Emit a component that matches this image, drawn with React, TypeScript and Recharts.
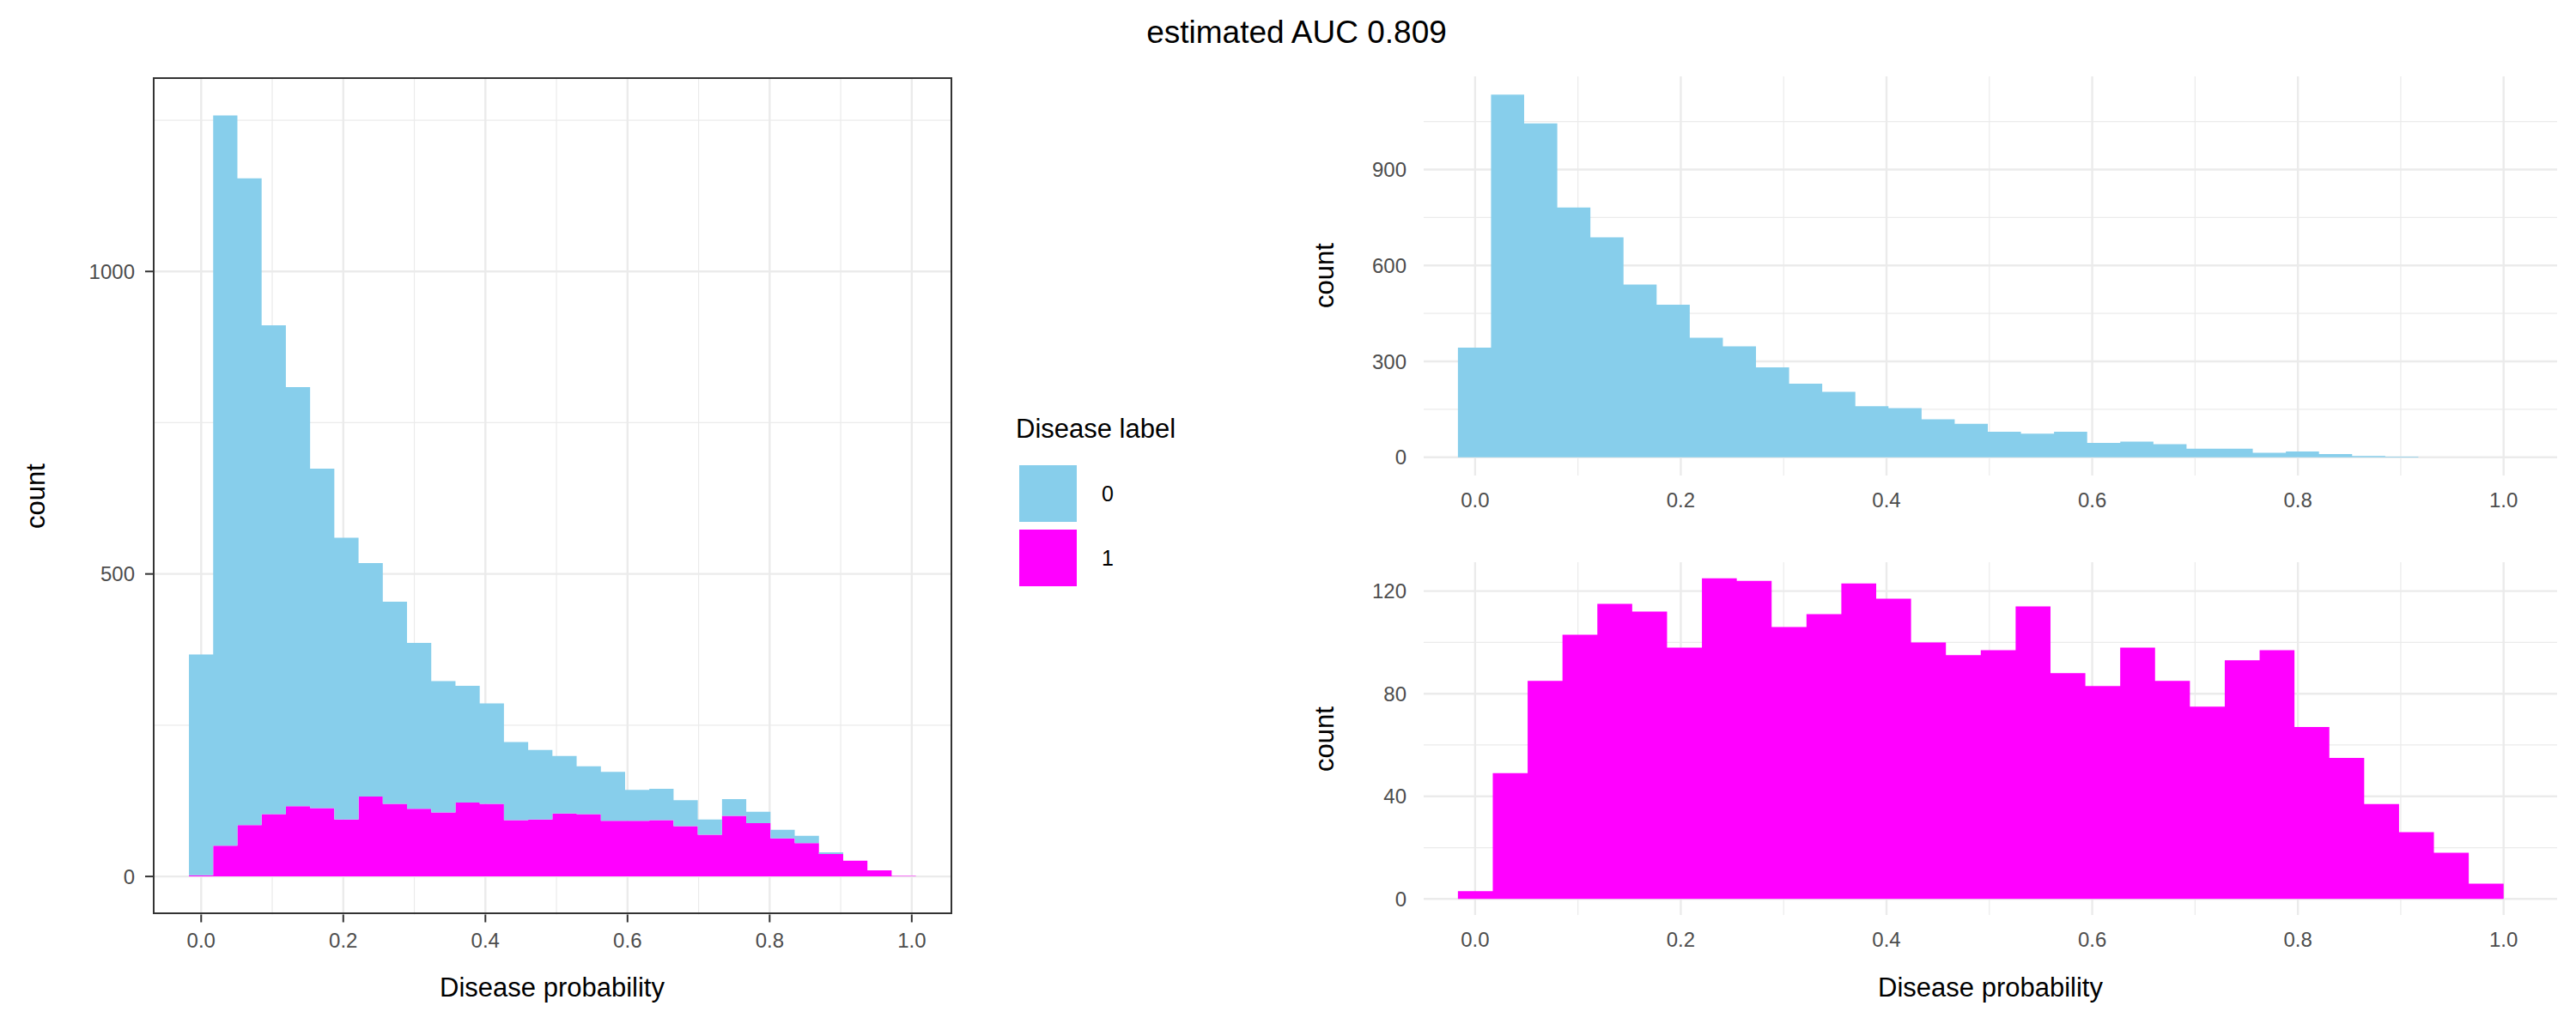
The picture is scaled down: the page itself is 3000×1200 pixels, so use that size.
import React from "react";
import { ComposedChart, Area, XAxis, YAxis, CartesianGrid } from "recharts";

const leftTotal = [367,1258,1154,911,809,674,560,518,454,386,323,315,286,222,209,199,182,173,143,145,126,94,128,107,77,67,40,26,10,1];
const leftPos = [2,51,85,103,116,113,94,132,120,112,106,122,120,93,94,104,103,92,92,93,83,69,100,88,63,55,37,26,10,1];
const negCounts = [343,1134,1044,781,688,540,477,374,347,281,230,205,160,154,119,105,80,74,80,45,49,41,27,27,14,18,10,4,2];
const posCounts = [3,49,85,103,115,112,98,125,124,106,111,123,117,100,95,97,114,88,83,98,85,75,93,97,67,55,37,26,18,6];
const leftBins = { start: -0.0172, width: 0.0341 };
const negBins = { start: -0.0167, width: 0.0322 };
const posBins = { start: -0.0167, width: 0.03389 };
const xTicks = [0, 0.2, 0.4, 0.6, 0.8, 1.0];
const xMinor = [0.1, 0.3, 0.5, 0.7, 0.9];

const BLUE = "#87CEEB";
const MAGENTA = "#FF00FF";
const FONT = "'Liberation Sans', Arial, sans-serif";

function edges(bins: { start: number; width: number }, series: Record<string, number[]>) {
  const keys = Object.keys(series);
  const n = series[keys[0]].length;
  const out: any[] = [];
  for (let i = 0; i <= n; i++) {
    const j = Math.min(i, n - 1);
    const row: any = { x: bins.start + bins.width * i };
    keys.forEach((k) => (row[k] = series[k][j]));
    out.push(row);
  }
  return out;
}

const leftData = edges(leftBins, { pos: leftPos, neg: leftTotal.map((t, i) => t - leftPos[i]) });
const negData = edges(negBins, { neg: negCounts });
const posData = edges(posBins, { pos: posCounts });

const YW = 120;
const XH = 70;

function Panel(props: any) {
  const { left, top, w, h, data, xDomain, yDomain, yTicks, yMinor, areas, ticks } = props;
  const tickStyle = { fontSize: 24, fill: "#4D4D4D", fontFamily: FONT };
  return (
    <div style={{ position: "absolute", left: left - YW, top }}>
      <ComposedChart width={w + YW} height={h + XH} data={data} margin={{ top: 0, right: 0, bottom: 0, left: 0 }}>
        <CartesianGrid stroke="#EBEBEB" strokeWidth={1.2} horizontalValues={yMinor} verticalValues={xMinor} />
        <CartesianGrid stroke="#EBEBEB" strokeWidth={2.4} horizontalValues={yTicks} verticalValues={xTicks} />
        <XAxis
          dataKey="x"
          type="number"
          domain={xDomain}
          ticks={xTicks}
          allowDataOverflow
          height={XH}
          axisLine={false}
          tickLine={ticks ? { stroke: "#333333", strokeWidth: 2 } : false}
          tickSize={ticks ? 9 : 0}
          tickMargin={ticks ? 12 : 20}
          tick={tickStyle}
          tickFormatter={(v: number) => v.toFixed(1)}
        />
        <YAxis
          type="number"
          domain={yDomain}
          ticks={yTicks}
          allowDataOverflow
          width={YW}
          axisLine={false}
          tickLine={ticks ? { stroke: "#333333", strokeWidth: 2 } : false}
          tickSize={ticks ? 9 : 0}
          tickMargin={ticks ? 12 : 20}
          tick={tickStyle}
        />
        {areas.map((a: any) => (
          <Area
            key={a.key}
            type="stepAfter"
            dataKey={a.key}
            stackId={a.stack}
            fill={a.color}
            fillOpacity={1}
            stroke="none"
            dot={false}
            activeDot={false}
            isAnimationActive={false}
          />
        ))}
      </ComposedChart>
    </div>
  );
}

const textBase: React.CSSProperties = { position: "absolute", fontFamily: FONT, color: "#000", whiteSpace: "nowrap" };

export default function App() {
  return (
    <div style={{ position: "absolute", left: 0, top: 0, width: 3000, height: 1200, background: "#fff", overflow: "hidden" }}>
      <div style={{ ...textBase, left: 1510, top: 38, transform: "translate(-50%,-50%)", fontSize: 37 }}>estimated AUC 0.809</div>

      <Panel
        left={178} top={89.5} w={931} h={975.5}
        data={leftData} xDomain={[-0.068, 1.057]} yDomain={[-63, 1321]}
        yTicks={[0, 500, 1000]} yMinor={[250, 750, 1250]} ticks
        areas={[{ key: "pos", stack: "s", color: MAGENTA }, { key: "neg", stack: "s", color: BLUE }]}
      />
      <div style={{ position: "absolute", left: 178, top: 89.5, width: 931, height: 975.5, border: "2px solid #333333", boxSizing: "border-box" }} />
      <div style={{ ...textBase, left: 42, top: 578, transform: "translate(-50%,-50%) rotate(-90deg)", fontSize: 31 }}>count</div>
      <div style={{ ...textBase, left: 643, top: 1151, transform: "translate(-50%,-50%)", fontSize: 31 }}>Disease probability</div>

      <div style={{ ...textBase, left: 1183, top: 500, transform: "translateY(-50%)", fontSize: 31 }}>Disease label</div>
      <div style={{ position: "absolute", left: 1187, top: 542, width: 67, height: 66, background: BLUE }} />
      <div style={{ position: "absolute", left: 1187, top: 617, width: 67, height: 66, background: MAGENTA }} />
      <div style={{ ...textBase, left: 1283, top: 575, transform: "translateY(-50%)", fontSize: 25 }}>0</div>
      <div style={{ ...textBase, left: 1283, top: 650, transform: "translateY(-50%)", fontSize: 25 }}>1</div>

      <Panel
        left={1658} top={89} w={1320} h={465}
        data={negData} xDomain={[-0.05, 1.052]} yDomain={[-57, 1191]}
        yTicks={[0, 300, 600, 900]} yMinor={[150, 450, 750, 1050]}
        areas={[{ key: "neg", color: BLUE }]}
      />
      <div style={{ ...textBase, left: 1543, top: 321, transform: "translate(-50%,-50%) rotate(-90deg)", fontSize: 31 }}>count</div>

      <Panel
        left={1658} top={655} w={1320} h={411}
        data={posData} xDomain={[-0.05, 1.052]} yDomain={[-6.25, 131.25]}
        yTicks={[0, 40, 80, 120]} yMinor={[20, 60, 100]}
        areas={[{ key: "pos", color: MAGENTA }]}
      />
      <div style={{ ...textBase, left: 1543, top: 861, transform: "translate(-50%,-50%) rotate(-90deg)", fontSize: 31 }}>count</div>
      <div style={{ ...textBase, left: 2318, top: 1151, transform: "translate(-50%,-50%)", fontSize: 31 }}>Disease probability</div>
    </div>
  );
}
